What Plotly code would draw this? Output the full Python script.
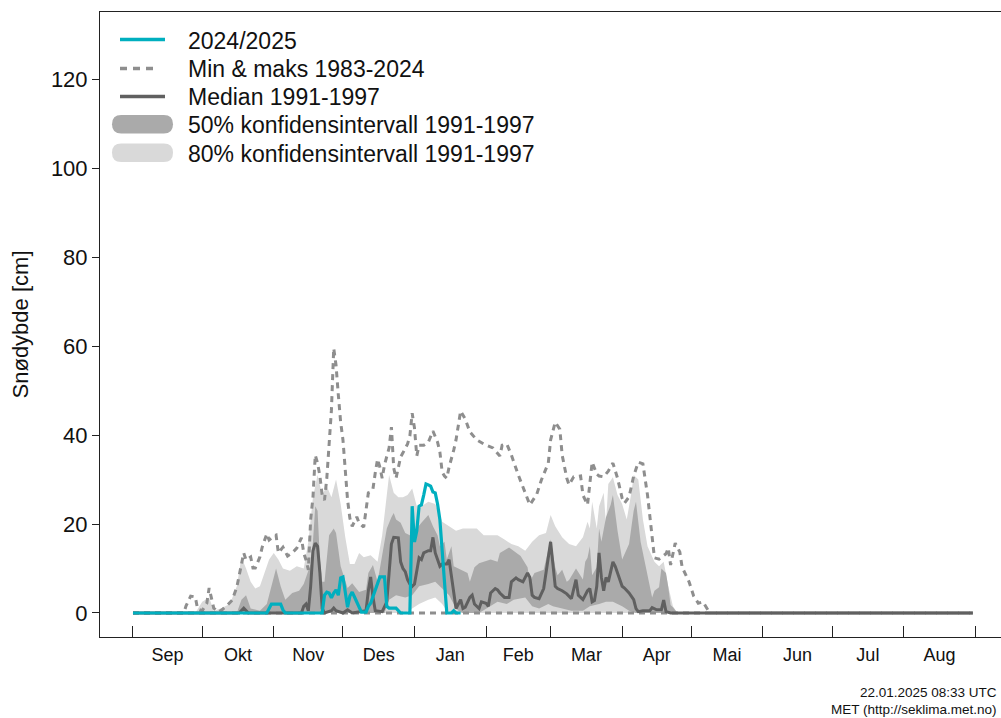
import pandas as pd
import plotly.graph_objects as go

# ---------------------------------------------------------------- data
SEASON_START = pd.Timestamp("2024-09-01")   # day 0 of the snow season

month_labels = ["Sep", "Okt", "Nov", "Des", "Jan", "Feb",
                "Mar", "Apr", "Mai", "Jun", "Jul", "Aug"]
y_tick_values = [0, 20, 40, 60, 80, 100, 120]

# 2024/2025 snow depth (days since 1 Sep 2024, cm)
season_days = [0, 58, 59, 60, 64, 65, 66,
               82, 83, 84, 85, 86, 87, 88, 89, 90, 91, 92, 93, 94, 95, 96, 97, 98, 99,
               101, 102, 103, 104, 105, 106, 107, 108, 109, 110, 111,
               114, 115, 116,
               120, 121, 122, 123, 124, 125, 126, 127, 128, 129, 130, 131, 132, 133, 134, 135, 136,
               138, 139, 140, 142]
season_cm = [0, 0, 1, 2, 2, 0.7, 0,
             0, 4.0, 4.7, 4.5, 3.4, 4.5, 5.2, 4.0, 7.9, 8.1, 5, 1.3, 3.8, 4.7, 3.6, 2.5, 1.0, 0.2,
             0.2, 1.5, 2.2, 3.6, 5, 6.3, 8.1, 8.1, 8.1, 1.5, 1.1,
             1.1, 0.5, 0,
             0, 24, 16, 18.5, 24, 24.3, 26.5, 29, 28.8, 28.5, 27.2, 27, 24.5, 21, 14, 6, 0,
             0, 0.5, 0, 0]

# Maximum 1983-2024
max_days = [0, 22, 23, 25, 27, 28, 30, 32, 33, 34, 35, 37, 39, 41, 43, 45, 46, 48, 49,
            51, 52, 53, 55, 56, 58, 59, 61, 62, 63, 65, 67, 69, 71, 73, 74, 75, 76, 77,
            78, 79, 80, 81, 82, 83, 84, 85, 86, 87, 88, 89, 90, 91, 92, 93, 94, 95, 97,
            98, 100, 101, 102, 103, 104, 105, 106, 107, 108, 109, 111, 112, 113, 114, 116,
            117, 119, 120, 121, 122, 123, 124, 126, 128, 130, 132, 133, 134, 135, 136, 137,
            139, 140, 142, 144, 146, 149, 152, 156, 159, 160, 162, 164, 167, 169, 172, 175,
            177, 180, 181, 183, 185, 186, 188, 189, 191, 194, 195, 197, 198, 199, 201, 202,
            204, 206, 208, 210, 212, 213, 215, 217, 219, 221, 223, 225, 226, 228, 231, 232,
            233, 235, 237, 238, 241, 243, 245, 247, 249, 250, 364]
max_cm = [0, 0, 1.6, 3.8, 3.6, 0.9, 0.5, 2.2, 5.6, 3.6, 1.1, 0.2, 0.9, 1.8, 2.9, 5.8, 8.5, 13.5, 11.9,
          12.6, 10.1, 10.1, 12.6, 14.8, 17.8, 16.4, 17.3, 17.5, 13.5, 14.8, 12.8, 13.5, 14.6, 16.9, 13.5, 11.9, 9.7, 21,
          26, 35.5, 33.7, 30.8, 26.5, 25.4, 30.3, 38, 45.6, 59.5, 55.7, 49.0, 42.9, 38.9, 32, 25.4, 21.3, 19.5, 21.6,
          20.2, 19.3, 23.8, 27.0, 27.2, 27.9, 31.5, 34.6, 32.8, 30.3, 33.3, 37.1, 41.8, 32.6, 30.3, 35.1,
          36.0, 38.0, 39.8, 44.9, 41.6, 35.3, 37.7, 37.7, 38.4, 40.9, 38.4, 36.2, 31.7, 30.8, 30.3, 32.8,
          36.6, 38.9, 45.4, 43.6, 40.7, 38.9, 38.0, 37.1, 35.3, 37.7, 38.0, 35.5, 31.0, 28.3, 24.3, 26.7,
          29.9, 33.7, 38.9, 42.9, 41.3, 35.5, 30.3, 28.8, 30.6, 30.8, 26.5, 24.3, 29.2, 33.9, 31.2, 30.8,
          30.6, 31.9, 33.7, 30.3, 25.8, 24.7, 26.1, 30.8, 33.9, 33.5, 26.5, 16.9, 12.4, 12.1, 13.3, 14.6,
          10.8, 15.7, 13.7, 10.3, 7.0, 3.8, 2.2, 2.5, 0.7, 0, 0]

# Minimum 1983-2024
min_days = [0, 364]
min_cm = [0, 0]

# Median 1991-1997
median_days = [0, 46, 48, 50, 73, 74, 75, 76, 77, 78, 79, 80, 81, 82, 83, 86, 87, 88, 91, 93, 95,
               101, 102, 103, 104, 105, 108, 109, 110, 111, 112, 113, 114, 115, 116, 117, 118, 119,
               120, 121, 122, 123, 124, 125, 126, 128, 129, 130, 131, 132, 133, 134, 136, 137, 138,
               139, 140, 142, 143, 144, 146, 147, 148, 150, 151, 153, 154, 155, 157, 158, 159, 161,
               163, 164, 166, 167, 169, 170, 171, 172, 173, 174, 176, 178, 180, 181, 182, 183, 184,
               186, 188, 190, 192, 193, 195, 197, 198, 199, 200, 201, 202, 203, 204, 205, 206, 208,
               209, 211, 212, 213, 215, 217, 218, 219, 221, 224, 225, 227, 229, 230, 231, 233, 364]
median_cm = [0, 0, 1.1, 0, 0, 1.5, 2.0, 0.5, 6, 14, 15.7, 15, 9, 1, 0, 0.5, 1.1, 0.5, 0, 0.7, 0,
             0.5, 5, 8.1, 3.6, 0.5, 0.3, 1.3, 2.5, 9, 15.5, 17, 17, 16.9, 11.5, 10, 9.3, 7.5,
             6.5, 6, 6.5, 10, 12.4, 12, 13.5, 14, 14, 17, 13.5, 12, 10.5, 11, 11, 12, 8,
             4, 1, 3.0, 1, 1.3, 3.5, 4, 2, 1, 2.5, 2.2, 1.5, 4.5, 5.5, 5.2, 4.5, 3.5,
             3.5, 7, 7.9, 7.5, 7, 8, 9, 8, 4, 3.5, 3.2, 5.5, 12, 16, 11, 6, 5.5,
             5.0, 4.3, 3.2, 7.5, 4, 3, 5, 5.5, 2.5, 2.8, 6, 13.5, 8, 5, 8, 7, 11.5,
             10.5, 7.2, 6, 5.6, 4.5, 3, 1, 0.3, 0.5, 0.5, 1.2, 0.7, 0.7, 2.9, 0.3, 0, 0]

# 80 % interval 1991-1997: upper (p90) and lower (p10)
p90_days = [0, 27, 30, 33, 35, 38, 42, 45, 47, 49, 51, 53, 55, 57, 59, 61, 63, 65, 68, 71, 74,
            76, 78, 80, 82, 84, 86, 88, 90, 92, 94, 96, 98, 100, 103, 106, 108, 110, 111, 113,
            115, 117, 119, 121, 123, 125, 128, 131, 134, 137, 140, 143, 146, 149, 152, 155, 158,
            161, 164, 167, 170, 173, 176, 179, 181, 183, 186, 189, 192, 195, 197, 198, 199, 201,
            202, 204, 205, 206, 208, 210, 212, 214, 216, 217, 219, 221, 223, 226, 228, 230, 232,
            234, 236, 364]
p90_cm = [0, 0, 2.5, 3.5, 0.5, 1, 2, 6, 12.5, 10, 7, 5.5, 6, 9, 12, 13.5, 12, 10, 9.5, 10.5, 10,
          16, 26, 31, 26.5, 28.5, 26, 30, 24.5, 17, 11, 11, 13.5, 12.5, 13, 11.5, 17.5, 26.5, 31, 27,
          26, 26, 26.5, 28, 24, 24, 25, 24.5, 20.5, 19.5, 18.5, 19, 19, 19, 17.5, 17.5, 17.5,
          16.5, 15.5, 15, 14, 16, 17.5, 18, 22, 19.5, 17, 15.5, 15, 17, 20.5, 19, 25, 19,
          24, 27, 20, 29, 30.5, 26.5, 24.5, 21, 27, 31, 30, 21, 15, 11.5, 10.5, 11.5, 6,
          1.5, 0, 0]
p10_days = [0, 118, 121, 124, 128, 131, 134, 136, 138, 364]
p10_cm = [0, 0, 1, 2, 3, 3.5, 2, 0.5, 0, 0]

# 50 % interval 1991-1997: upper (p75) and lower (p25)
p75_days = [0, 45, 47, 49, 51, 55, 58, 61, 62, 64, 66, 69, 72, 74, 77, 78, 79, 80, 81, 82, 83,
            85, 87, 88, 90, 93, 95, 98, 101, 102, 104, 106, 108, 110, 112, 113, 114, 116, 118,
            120, 122, 123, 125, 127, 128, 130, 132, 133, 135, 136, 138, 139, 142, 145, 146, 148,
            150, 152, 155, 158, 159, 163, 168, 171, 172, 174, 178, 181, 183, 184, 186, 188, 189,
            192, 195, 196, 197, 198, 199, 201, 202, 203, 205, 207, 208, 210, 212, 215, 217, 218,
            220, 223, 225, 226, 228, 229, 231, 232, 233, 234, 236, 364]
p75_cm = [0, 0, 3, 4, 1, 0.5, 2, 8, 10, 6, 3, 4.5, 5, 6.5, 11, 16, 24, 23, 12, 7, 7,
          17.5, 19, 18, 10.5, 5.6, 6.7, 4.7, 5.2, 9, 10.8, 7, 13, 19, 21.5, 22.5, 21, 20.3, 18,
          17.5, 17.5, 19, 20.3, 21.6, 22, 19.5, 17.5, 15, 16, 12, 15, 10.5, 9.7, 9, 7, 10.3,
          11.2, 11.5, 12, 11.5, 13.5, 14.7, 12.8, 10.3, 7, 9, 9.7, 16.5, 10.3, 8.5, 9.7, 7, 7.4,
          10, 7.5, 11.5, 12.4, 15, 8.5, 10.3, 19, 16, 21.5, 24.3, 26.5, 18.5, 12, 15.5, 23, 25,
          16, 8.5, 3.5, 5, 5.8, 10, 9, 5.8, 1.8, 1.3, 0, 0]
p25_days = [0, 109, 111, 114, 118, 121, 124, 128, 131, 134, 137, 139, 141, 143, 150, 155, 158,
            162, 165, 170, 173, 176, 180, 182, 186, 190, 195, 198, 202, 205, 208, 212, 215, 218, 364]
p25_cm = [0, 0, 3, 4, 3.5, 4, 6, 6.5, 7, 5.5, 4, 2, 0.5, 0, 0, 1.5, 2.5,
          2, 3, 3.5, 1.5, 1, 2, 1.5, 1, 0.5, 0.5, 1.5, 2, 2.5, 2.5, 1.5, 0.5, 0, 0]

# ---------------------------------------------------------------- styling
TEAL = "#00afbf"
DASH_GREY = "#8e8e8e"
MEDIAN_GREY = "#606060"
BAND50 = "#aaaaaa"
BAND80 = "#d9d9d9"
AXIS = "#222222"
FONT = "Liberation Sans, Arial, Helvetica, sans-serif"

W, H = 1001, 718
M_L, M_R, M_T, M_B = 100, 0, 12, 81
VIEW_START_DAY, VIEW_END_DAY = -14.3, 376.2


def to_dates(days):
    return [SEASON_START + pd.Timedelta(days=d) for d in days]


def band_polygon(up_days, up_vals, lo_days, lo_vals):
    xs = to_dates(up_days) + to_dates(lo_days)[::-1]
    ys = list(up_vals) + list(lo_vals)[::-1]
    return xs, ys


fig = go.Figure()

x80, y80 = band_polygon(p90_days, p90_cm, p10_days, p10_cm)
fig.add_trace(go.Scatter(x=x80, y=y80, fill="toself", fillcolor=BAND80, mode="lines",
                         line=dict(width=0, color=BAND80),
                         name="80% konfidensintervall 1991-1997", hoverinfo="skip"))
x50, y50 = band_polygon(p75_days, p75_cm, p25_days, p25_cm)
fig.add_trace(go.Scatter(x=x50, y=y50, fill="toself", fillcolor=BAND50, mode="lines",
                         line=dict(width=0, color=BAND50),
                         name="50% konfidensintervall 1991-1997", hoverinfo="skip"))
fig.add_trace(go.Scatter(x=to_dates(min_days), y=min_cm, mode="lines",
                         line=dict(color=DASH_GREY, width=3, dash="6px,5px"),
                         name="Min 1983-2024"))
fig.add_trace(go.Scatter(x=to_dates(max_days), y=max_cm, mode="lines",
                         line=dict(color=DASH_GREY, width=3, dash="6px,5px"),
                         name="Min & maks 1983-2024"))
fig.add_trace(go.Scatter(x=to_dates(median_days), y=median_cm, mode="lines",
                         line=dict(color=MEDIAN_GREY, width=3),
                         name="Median 1991-1997"))
fig.add_trace(go.Scatter(x=to_dates(season_days), y=season_cm, mode="lines",
                         line=dict(color=TEAL, width=3.2),
                         name="2024/2025"))

month_starts = [SEASON_START + pd.DateOffset(months=i) for i in range(13)]
month_mids = [a + (b - a) / 2 for a, b in zip(month_starts[:-1], month_starts[1:])]

fig.update_layout(
    width=W, height=H,
    margin=dict(l=M_L, r=M_R, t=M_T, b=M_B, pad=0),
    paper_bgcolor="white", plot_bgcolor="white",
    showlegend=False,
    font=dict(family=FONT, color="#111111"),
)
fig.update_xaxes(
    type="date",
    range=[SEASON_START + pd.Timedelta(days=VIEW_START_DAY),
           SEASON_START + pd.Timedelta(days=VIEW_END_DAY)],
    tickmode="array", tickvals=month_mids, ticktext=month_labels,
    ticks="", showgrid=False, zeroline=False,
    showline=True, linecolor=AXIS, linewidth=1, mirror=True,
    tickfont=dict(size=18, family=FONT),
    ticklabelstandoff=1,
    minor=dict(tickmode="array", tickvals=month_starts, ticks="inside",
               ticklen=11, tickwidth=1, tickcolor=AXIS, showgrid=False),
)
fig.update_yaxes(
    range=[-5.4, 135.1],
    tickmode="array", tickvals=y_tick_values,
    ticks="outside", ticklen=7, tickwidth=1, tickcolor=AXIS,
    showline=True, linecolor=AXIS, linewidth=1,
    showgrid=False, zeroline=False,
    tickfont=dict(size=22, family=FONT),
    title=dict(text="Snødybde [cm]", font=dict(size=22, family=FONT), standoff=16),
)

# ---------------------------------------------------------------- legend (drawn)
PW, PH = W - M_L - M_R, H - M_T - M_B


def px(x):
    return (x - M_L) / PW


def py(y):
    return (H - M_B - y) / PH


def pill(x0, y0, x1, y1, r):
    rx, ry = r / PW, r / PH
    X0, X1, Y0, Y1 = px(x0), px(x1), py(y0), py(y1)
    ym = (Y0 + Y1) / 2
    return (f"M {X0+rx},{Y0} L {X1-rx},{Y0} Q {X1},{Y0} {X1},{ym} "
            f"Q {X1},{Y1} {X1-rx},{Y1} L {X0+rx},{Y1} Q {X0},{Y1} {X0},{ym} "
            f"Q {X0},{Y0} {X0+rx},{Y0} Z")


legend_rows = [
    ("2024/2025", 41),
    ("Min & maks 1983-2024", 69),
    ("Median 1991-1997", 97),
    ("50% konfidensintervall 1991-1997", 125.5),
    ("80% konfidensintervall 1991-1997", 154),
]
shapes = [
    dict(type="line", xref="paper", yref="paper", x0=px(120), x1=px(165), y0=py(39.5), y1=py(39.5),
         line=dict(color=TEAL, width=3.5)),
    dict(type="line", xref="paper", yref="paper", x0=px(120), x1=px(159), y0=py(68.5), y1=py(68.5),
         line=dict(color=DASH_GREY, width=3.5, dash="7px,6px")),
    dict(type="line", xref="paper", yref="paper", x0=px(120), x1=px(165), y0=py(96.5), y1=py(96.5),
         line=dict(color=MEDIAN_GREY, width=3.5)),
    dict(type="path", xref="paper", yref="paper", path=pill(112, 115, 173, 133.5, 9.2),
         fillcolor=BAND50, line=dict(width=0)),
    dict(type="path", xref="paper", yref="paper", path=pill(112, 143.5, 173, 162, 9.2),
         fillcolor=BAND80, line=dict(width=0)),
]
annotations = [
    dict(text=t, x=px(186), y=py(yc), xref="paper", yref="paper", xanchor="left",
         yanchor="middle", showarrow=False, font=dict(size=23, family=FONT, color="#111111"))
    for t, yc in legend_rows
]
annotations += [
    dict(text="22.01.2025 08:33 UTC", x=px(999), y=py(692), xref="paper", yref="paper",
         xanchor="right", yanchor="middle", showarrow=False,
         font=dict(size=13.5, family=FONT, color="#111111")),
    dict(text="MET (http://seklima.met.no)", x=px(999), y=py(709), xref="paper", yref="paper",
         xanchor="right", yanchor="middle", showarrow=False,
         font=dict(size=13.5, family=FONT, color="#111111")),
]
fig.update_layout(shapes=shapes, annotations=annotations)

fig.write_html("out.html",
               config={"displayModeBar": False},
               post_script="document.body.style.margin='0';document.body.style.padding='0';")
